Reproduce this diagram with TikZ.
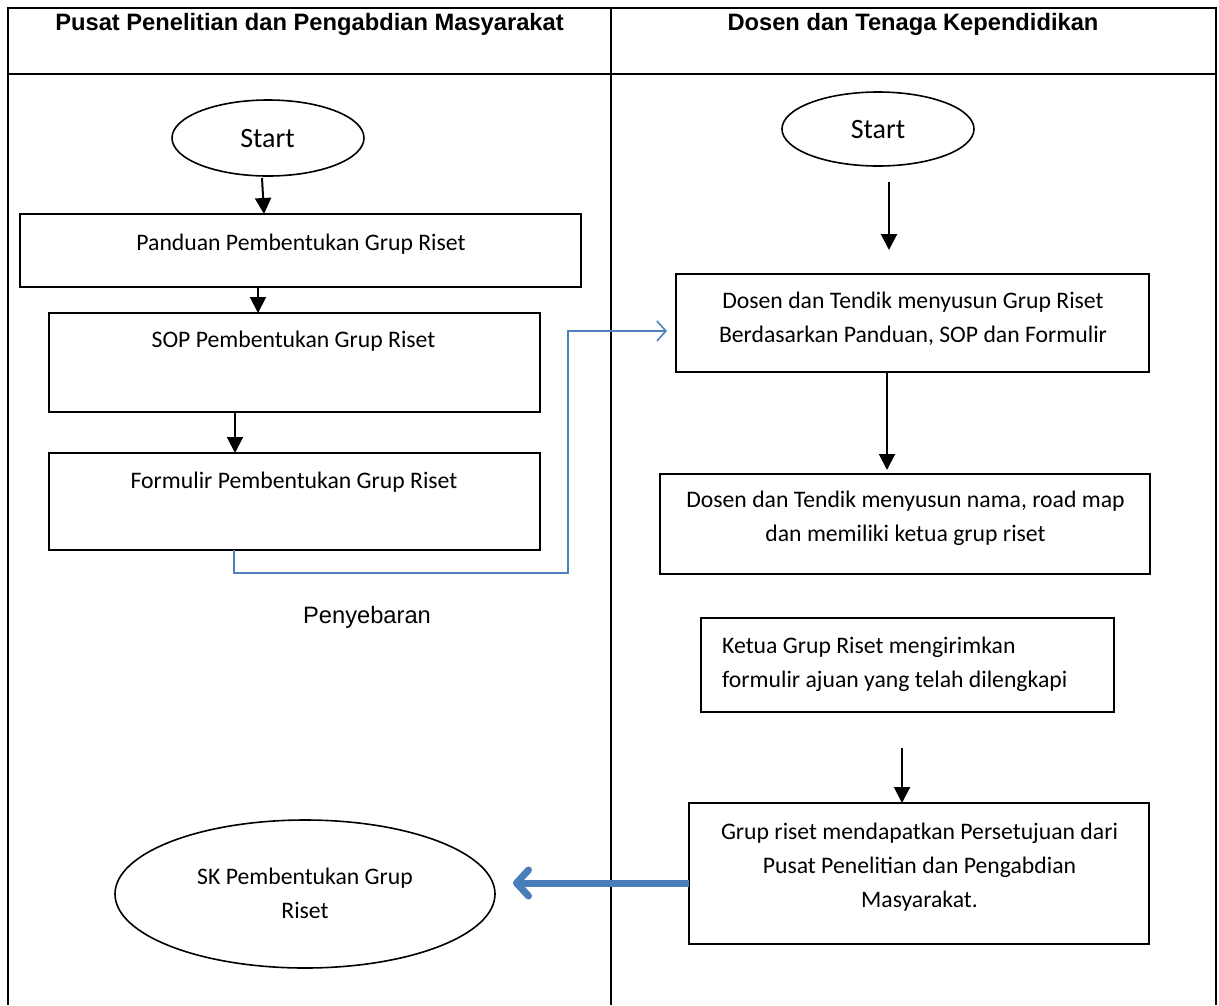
\documentclass[tikz,border=0pt]{standalone}
\usepackage{fontspec}
\setmainfont{Carlito}
\newfontfamily\arialfont{Liberation Sans}
\usetikzlibrary{arrows.meta,shapes.geometric}
\definecolor{flowblue}{HTML}{4F81BD}
\definecolor{backblue}{HTML}{4A7EBB}

\begin{document}
\begin{tikzpicture}[x=1pt, y=-1pt,
  lane/.style={line width=2pt},
  box/.style={shape=rectangle, draw=black, line width=2pt, inner sep=0pt, outer sep=0pt},
  oval/.style={shape=ellipse, draw=black, line width=1.6pt, inner sep=0pt, outer sep=0pt},
  txt/.style={shape=rectangle, draw=none, inner sep=0pt, anchor=base, align=center, font=\fontsize{23.7}{34}\selectfont},
  head/.style={txt, font=\arialfont\bfseries\fontsize{23.7}{28}\selectfont},
  arr/.style={line width=2pt, -{Triangle[length=16pt, width=16pt]}},
  flow/.style={draw=flowblue, line width=1.6pt, -{Straight Barb[length=9pt, width=20pt, line width=1.6pt]}},
  back/.style={draw=backblue, line width=7pt, -{Straight Barb[length=12pt, width=26pt, round]}}]
\useasboundingbox (0,0) rectangle (1219,1005);
%%%%%%%%%%%%%%%%%%%%%%%%%%%%%%%%%%%%%%%%%%% HELP LINES
%\draw[help lines, step=50] (0,0) grid (1219,1005);

%%%%%%%%%%%%%%%%%%%%%%%%%%%%%%%%%%%%%%%%%%% lanes
\draw[lane] (8,1005) -- (8,8) -- (1216,8) -- (1216,1005);
\draw[lane] (8,74) -- (1216,74);
\draw[lane] (611,8) -- (611,1005);
\node[head](hPusat) at (309.5,30){Pusat Penelitian dan Pengabdian Masyarakat};
\node[head](hDosen) at (913,30){Dosen dan Tenaga Kependidikan};

%%%%%%%%%%%%%%%%%%%%%%%%%%%%%%%%%%%%%%%%%%% left lane
\node[oval, minimum width=192, minimum height=76](startL) at (268,138){};
\node[txt, font=\fontsize{28}{34}\selectfont](tStartL) at (267.5,147){Start};
\node[box, minimum width=561, minimum height=73](panduan) at (300.5,250.5){};
\node[txt](tPanduan) at (301,250){Panduan Pembentukan Grup Riset};
\node[box, minimum width=491, minimum height=99](sop) at (294.5,362.5){};
\node[txt](tSop) at (293.5,347){SOP Pembentukan Grup Riset};
\node[box, minimum width=491, minimum height=97](formulir) at (294.5,501.5){};
\node[txt](tFormulir) at (294,488){Formulir Pembentukan Grup Riset};
\node[txt, font=\arialfont\fontsize{23.7}{28}\selectfont](sebar) at (367,623){Penyebaran};
\node[oval, minimum width=380, minimum height=148](sk) at (305,894){};
\node[txt](tSk) at (305,918){SK Pembentukan Grup\\Riset};

%%%%%%%%%%%%%%%%%%%%%%%%%%%%%%%%%%%%%%%%%%% right lane
\node[oval, minimum width=192, minimum height=74](startR) at (878,129){};
\node[txt, font=\fontsize{28}{34}\selectfont](tStartR) at (878,138){Start};
\node[box, minimum width=473, minimum height=98](susun) at (912.5,323){};
\node[txt](tSusun) at (913,342){Dosen dan Tendik menyusun Grup Riset\\Berdasarkan Panduan, SOP dan Formulir};
\node[box, minimum width=490, minimum height=100](nama) at (905,524){};
\node[txt](tNama) at (905.5,541){Dosen dan Tendik menyusun nama, road map\\dan memiliki ketua grup riset};
\node[box, minimum width=413, minimum height=94](kirim) at (907.5,665){};
\node[txt, anchor=base west, align=left](tKirim) at (722,687){Ketua Grup Riset mengirimkan\\formulir ajuan yang telah dilengkapi};
\node[box, minimum width=460, minimum height=141](setuju) at (919,873.5){};
\node[txt](tSetuju) at (919.5,907){Grup riset mendapatkan Persetujuan dari\\Pusat Penelitian dan Pengabdian\\Masyarakat.};

%%%%% edges
\coordinate (tip) at ([xshift=-9pt,yshift=-8pt]susun.west);
\draw[arr] ([xshift=-6pt,yshift=-2pt]startL.south) -- ([xshift=-36.5pt]panduan.north);
\draw[arr] ([xshift=-42.5pt]panduan.south) -- ([xshift=-36.5pt]sop.north);
\draw[arr] ([xshift=-59.5pt]sop.south) -- ([xshift=-59.5pt]formulir.north);
\draw[flow] ([xshift=-60.5pt]formulir.south) -- ++(0,23) -- ++(334,0) |- (tip);
\draw[arr] ([xshift=11pt,yshift=-16pt]startR.south) -- ([xshift=-23.5pt,yshift=24pt]susun.north);
\draw[arr] ([xshift=-25.5pt]susun.south) -- ([xshift=-18pt,yshift=4pt]nama.north);
\draw[arr] ([xshift=-5.5pt,yshift=-36pt]kirim.south) -- ([xshift=-17pt]setuju.north);
\draw[back] ([yshift=-9.5pt]setuju.west) -- ([xshift=18pt,yshift=11pt]sk.east);
\end{tikzpicture}
\end{document}
